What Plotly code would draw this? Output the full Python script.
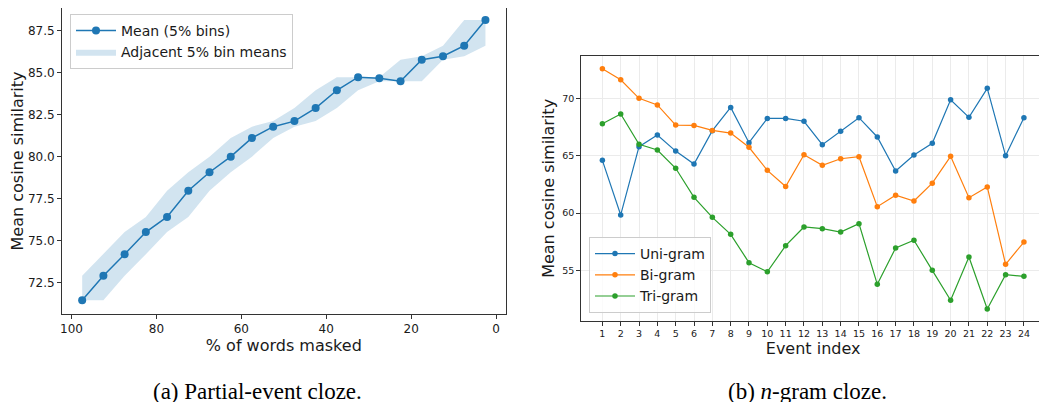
import plotly.graph_objects as go

# ---- Left panel data ----
masked_pct = [97.5, 92.5, 87.5, 82.5, 77.5, 72.5, 67.5, 62.5, 57.5, 52.5,
              47.5, 42.5, 37.5, 32.5, 27.5, 22.5, 17.5, 12.5, 7.5, 2.5]
mean_vals = [71.43, 72.89, 74.17, 75.50, 76.40, 77.97, 79.07, 80.00, 81.12, 81.79,
             82.12, 82.90, 83.96, 84.74, 84.68, 84.50, 85.78, 85.99, 86.62, 88.16]
band_lower = [71.43, 71.43, 72.89, 74.17, 75.50, 76.40, 77.97, 79.07, 80.00, 81.12,
              81.79, 82.12, 82.90, 83.96, 84.50, 84.50, 84.50, 85.78, 85.99, 86.62]
band_upper = [72.89, 74.17, 75.50, 76.40, 77.97, 79.07, 80.00, 81.12, 81.79, 82.12,
              82.90, 83.96, 84.74, 84.74, 84.74, 85.78, 85.99, 86.62, 88.16, 88.16]
left_xticks = [100, 80, 60, 40, 20, 0]
left_yticks = [72.5, 75.0, 77.5, 80.0, 82.5, 85.0, 87.5]

# ---- Right panel data ----
event_idx = list(range(1, 25))
unigram = [64.59, 59.83, 65.78, 66.80, 65.40, 64.27, 67.18, 69.21, 66.13, 68.25,
           68.25, 68.00, 65.96, 67.12, 68.31, 66.63, 63.66, 65.06, 66.08, 69.88,
           68.34, 70.87, 65.00, 68.31]
bigram = [72.58, 71.62, 70.00, 69.42, 67.67, 67.64, 67.20, 66.97, 65.73, 63.72,
          62.31, 65.08, 64.16, 64.73, 64.91, 60.55, 61.55, 61.05, 62.60, 64.94,
          61.33, 62.27, 55.53, 57.47]
trigram = [67.79, 68.63, 65.99, 65.49, 63.90, 61.37, 59.62, 58.14, 55.67, 54.88,
           57.15, 58.78, 58.63, 58.34, 59.07, 53.78, 56.95, 57.62, 55.00, 52.39,
           56.16, 51.63, 54.62, 54.48]
right_yticks = [55, 60, 65, 70]

BLUE = "#1f77b4"
ORANGE = "#ff7f0e"
GREEN = "#2ca02c"
FONT = "DejaVu Sans"

fig = go.Figure()

# Left: band as a closed polygon (upper edge forward, lower edge back)
fig.add_trace(go.Scatter(x=masked_pct + masked_pct[::-1],
                         y=band_upper + band_lower[::-1],
                         mode="lines", fill="toself",
                         fillcolor="rgba(31,119,180,0.2)", line=dict(width=0, color=BLUE),
                         name="Adjacent 5% bin means", legend="legend",
                         xaxis="x", yaxis="y"))
fig.add_trace(go.Scatter(x=masked_pct, y=mean_vals, mode="lines+markers",
                         line=dict(color=BLUE, width=1.5),
                         marker=dict(color=BLUE, size=8),
                         name="Mean (5% bins)", legend="legend",
                         xaxis="x", yaxis="y"))

# Right: n-gram lines
for name, vals, col in [("Uni-gram", unigram, BLUE), ("Bi-gram", bigram, ORANGE),
                        ("Tri-gram", trigram, GREEN)]:
    fig.add_trace(go.Scatter(x=event_idx, y=vals, mode="lines+markers",
                             line=dict(color=col, width=1.2),
                             marker=dict(color=col, size=5.5),
                             name=name, legend="legend2",
                             xaxis="x2", yaxis="y2"))

axis_common = dict(showline=True, linecolor="#333333", linewidth=1, mirror=True,
                   ticks="outside", ticklen=4, tickcolor="#333333", zeroline=False,
                   automargin=False)

fig.update_layout(
    width=1047, height=402,
    margin=dict(l=0, r=0, t=0, b=0, autoexpand=False),
    paper_bgcolor="white", plot_bgcolor="white",
    font=dict(family=FONT, color="#1a1a1a"),
    xaxis=dict(domain=[0.05158, 0.47526], anchor="y", range=[102.25, -2.25],
               tickvals=left_xticks, tickfont=dict(size=12), showgrid=False,
               title=dict(text="% of words masked", font=dict(size=16), standoff=2),
               **axis_common),
    yaxis=dict(domain=[0.2388, 1.0], anchor="x", range=[70.61, 88.87],
               tickvals=left_yticks, ticktext=[f"{v:.1f}" for v in left_yticks],
               tickfont=dict(size=12), showgrid=False,
               title=dict(text="Mean cosine similarity", font=dict(size=16), standoff=0),
               **axis_common),
    xaxis2=dict(domain=[0.54756, 0.99045], anchor="y2", range=[-0.15, 25.15],
                tickvals=event_idx, tickfont=dict(size=9.5),
                showgrid=True, gridcolor="#ebebeb", gridwidth=1,
                title=dict(text="Event index", font=dict(size=16), standoff=0),
                **axis_common),
    yaxis2=dict(domain=[0.22214, 0.88060], anchor="x2", range=[50.61, 73.69],
                tickvals=right_yticks, tickfont=dict(size=9.5),
                showgrid=True, gridcolor="#ebebeb", gridwidth=1,
                title=dict(text="Mean cosine similarity", font=dict(size=16), standoff=3),
                **axis_common),
    legend=dict(x=0.05922, y=0.98507, xanchor="left", yanchor="top", traceorder="reversed",
                bgcolor="rgba(255,255,255,0.8)", bordercolor="#cccccc", borderwidth=1,
                font=dict(size=14, family=FONT), tracegroupgap=0, itemwidth=40),
    legend2=dict(x=0.55492, y=0.24129, xanchor="left", yanchor="bottom",
                 bgcolor="rgba(255,255,255,0.8)", bordercolor="#cccccc", borderwidth=1,
                 font=dict(size=14, family=FONT), tracegroupgap=0, itemwidth=40),
    annotations=[
        dict(text="(a) Partial-event cloze.", x=0.2383, y=0.047, xref="paper", yref="paper",
             xanchor="center", yanchor="middle", showarrow=False,
             font=dict(family="Liberation Serif", size=23, color="black")),
        dict(text="(b) <i>n</i>-gram cloze.", x=0.7636, y=0.047, xref="paper", yref="paper",
             xanchor="center", yanchor="middle", showarrow=False,
             font=dict(family="Liberation Serif", size=23, color="black")),
    ],
)

fig.write_html("out.html")
